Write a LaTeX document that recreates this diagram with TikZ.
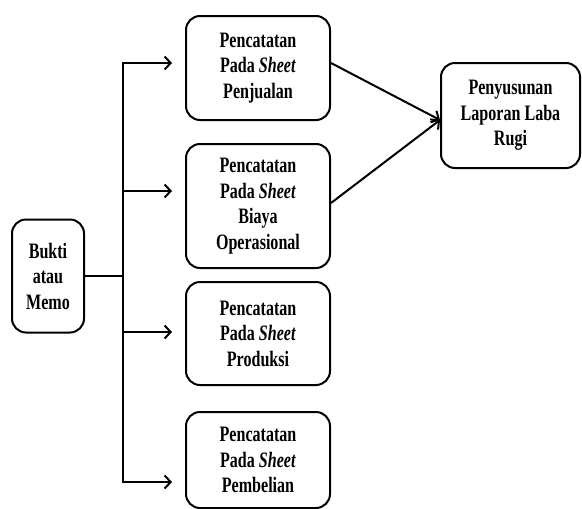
\documentclass[tikz,border=0pt]{standalone}
\usepackage{fontspec}
\setmainfont{Liberation Serif}[FakeStretch=0.73]
\usetikzlibrary{arrows.meta,calc}
\tikzset{
  box/.style={draw, line width=2pt, rounded corners=14pt, align=center, inner sep=0pt,
    font=\bfseries\fontsize{22}{25.5}\selectfont},
  line/.style={draw, line width=2pt, line cap=rect},
  arr/.style={draw, line width=2pt, -{Straight Barb[length=6pt,width=13pt]}}
}

\begin{document}
\begin{tikzpicture}[x=1pt,y=-1pt]
  \useasboundingbox (0,0) rectangle (582,509);

  \node[box, minimum width=72pt, minimum height=113pt] (bukti) at (48,276) {Bukti\\atau\\Memo};
  \node[box, minimum width=144pt, minimum height=104pt] (penjualan) at (258,68) {Pencatatan\\Pada \textit{Sheet}\\Penjualan};
  \node[box, minimum width=144pt, minimum height=124pt] (biaya) at (258,206) {Pencatatan\\Pada \textit{Sheet}\\Biaya\\Operasional};
  \node[box, minimum width=144pt, minimum height=103pt] (produksi) at (258,333.5) {Pencatatan\\Pada \textit{Sheet}\\Produksi};
  \node[box, minimum width=144pt, minimum height=96pt] (pembelian) at (258,460) {Pencatatan\\Pada \textit{Sheet}\\Pembelian};
  \node[box, minimum width=139pt, minimum height=105pt] (laporan) at (510.5,115.5) {Penyusunan\\Laporan Laba\\Rugi};

  % batang pembagi
  \coordinate (j1) at (123,63);
  \coordinate (j2) at (123,191);
  \coordinate (j3) at (123,332);
  \coordinate (j4) at (123,482);
  \draw[line] (bukti.east) -- (bukti.east -| j1);
  \draw[line] (j1) -- (j4);

  \draw[arr, shorten >=13pt] (j1) -- (j1 -| penjualan.west);
  \draw[arr, shorten >=13pt] (j2) -- (j2 -| biaya.west);
  \draw[arr, shorten >=13pt] (j3) -- (j3 -| produksi.west);
  \draw[arr, shorten >=13pt] (j4) -- (j4 -| pembelian.west);

  \draw[arr] ([yshift=5pt]penjualan.east) -- ([yshift=-4.5pt]laporan.west);
  \draw[arr] ([yshift=3pt]biaya.east) -- ([yshift=-4.5pt]laporan.west);
\end{tikzpicture}
\end{document}
